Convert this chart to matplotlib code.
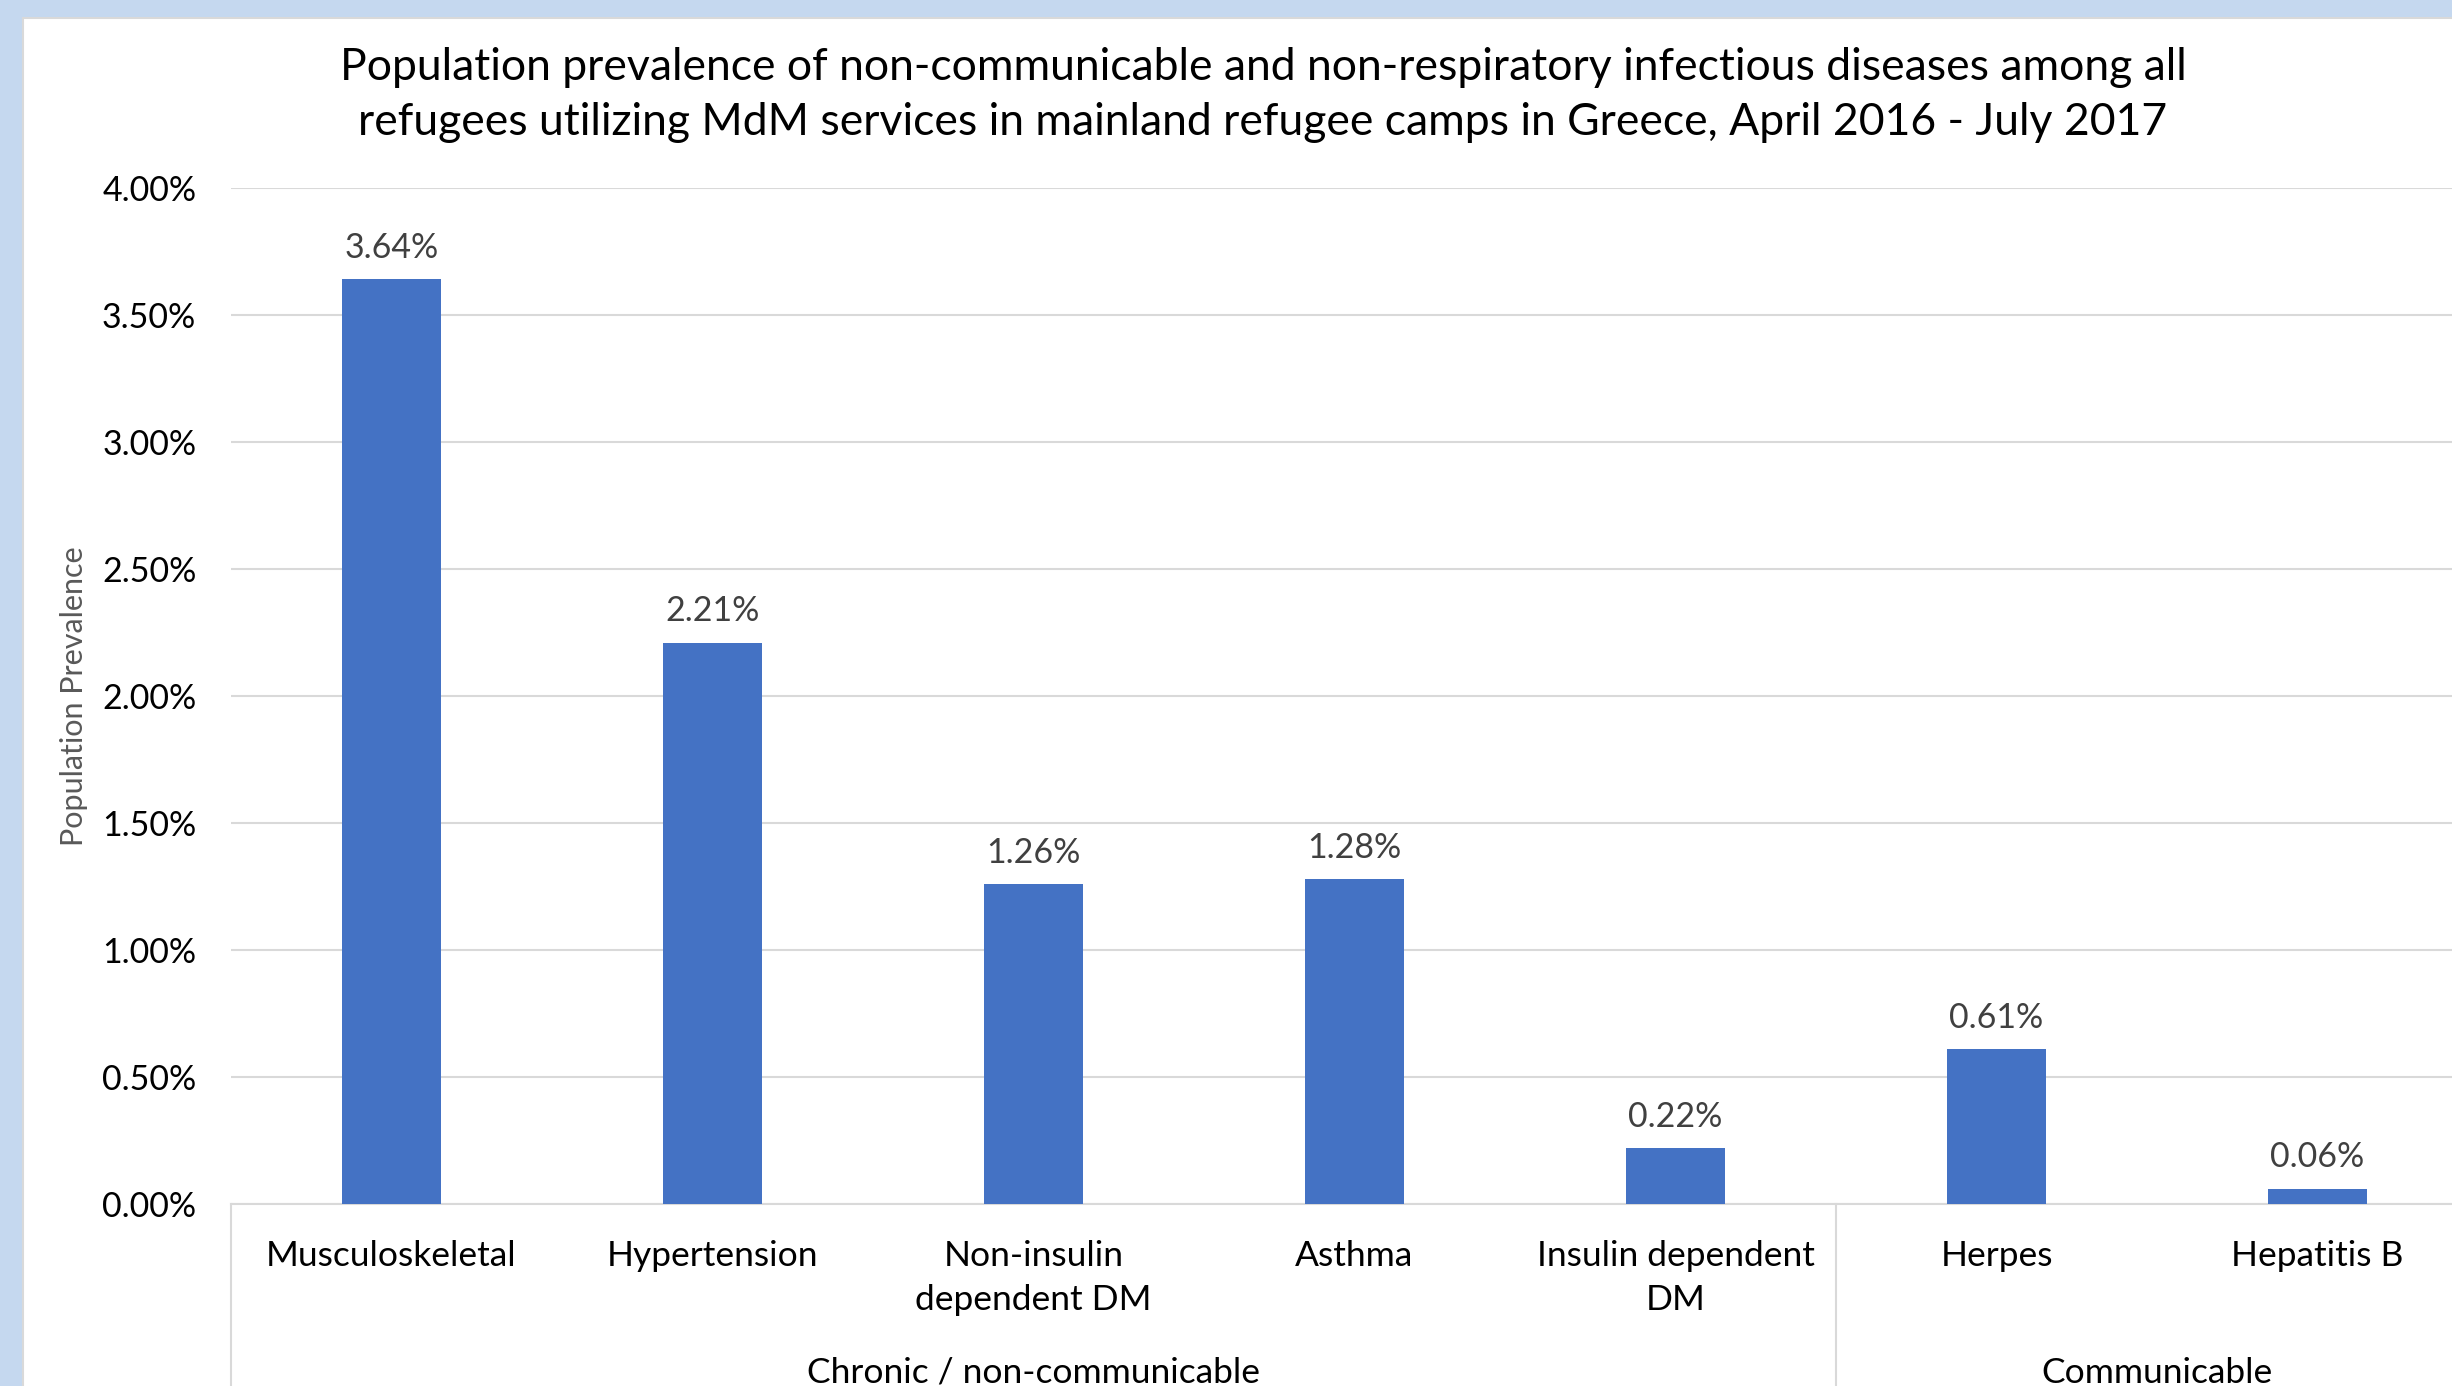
import matplotlib
matplotlib.use("Agg")
import matplotlib.pyplot as plt
import matplotlib.transforms as mtransforms
from matplotlib.patches import Rectangle

# Daten
kategorien = ["Musculoskeletal", "Hypertension", "Non-insulin\ndependent DM", "Asthma",
              "Insulin dependent\nDM", "Herpes", "Hepatitis B"]
prevalenz = [3.64, 2.21, 1.26, 1.28, 0.22, 0.61, 0.06]  # in %
gruppen = ["Chronic / non-communicable", "Communicable"]
gruppen_anzahl = [5, 2]
y_ticks = [0.0, 0.5, 1.0, 1.5, 2.0, 2.5, 3.0, 3.5, 4.0]

titel = ("Population prevalence of non-communicable and non-respiratory infectious diseases among all\n"
         "refugees utilizing MdM services in mainland refugee camps in Greece, April 2016 - July 2017")

plt.rcParams['font.family'] = ['Lato', 'DejaVu Sans']

W, H = 2452, 1386
fig = plt.figure(figsize=(W / 100, H / 100), dpi=100)
fig.patch.set_facecolor("#C5D8EF")

# weisse Diagrammflaeche (hinter den Achsen)
fig.add_artist(Rectangle((23 / W, -0.01), 1.0, 1 - 18 / H + 0.01, transform=fig.transFigure,
                         facecolor="white", edgecolor="#D9D9D9", linewidth=1.5, zorder=-5))

links, unten, oben = 231, 1204, 188
breite = 7 * 321.0
ax = fig.add_axes([links / W, 1 - unten / H, breite / W, (unten - oben) / H])
ax.patch.set_alpha(0)

x = list(range(len(kategorien)))
ax.bar(x, prevalenz, width=0.31, color="#4472C4", zorder=3)

for xi, v in zip(x, prevalenz):
    ax.annotate(f"{v:.2f}%", (xi, v), xytext=(0, 11), textcoords="offset points",
                ha="center", va="bottom", fontsize=24.5, color="#404040")

ax.set_xlim(-0.5, len(kategorien) - 0.5)
ax.set_ylim(0, 4.0)
ax.set_yticks(y_ticks)
ax.set_yticklabels([f"{t:.2f}%" for t in y_ticks], fontsize=24.5, color="black")
ax.yaxis.grid(True, color="#D9D9D9", linewidth=1.5, zorder=0)
ax.tick_params(axis="y", length=0, pad=25)

ax.set_xticks(x)
ax.set_xticklabels(kategorien, fontsize=25.5, color="black", linespacing=1.45)
ax.tick_params(axis="x", length=0, pad=26)

for s in ["top", "right", "left"]:
    ax.spines[s].set_visible(False)
ax.spines["bottom"].set_color("#D9D9D9")
ax.spines["bottom"].set_linewidth(1.5)

# Gruppenebene der Kategorienachse
trans = mtransforms.blended_transform_factory(ax.transData, ax.transAxes)
start = -0.5
ax.plot([start, start], [0, -0.3], transform=trans, color="#D9D9D9", lw=1.5, clip_on=False)
for name, n in zip(gruppen, gruppen_anzahl):
    ende = start + n
    ax.plot([ende, ende], [0, -0.3], transform=trans, color="#D9D9D9", lw=1.5, clip_on=False)
    ax.text((start + ende) / 2, -0.166, name, transform=trans, ha="center", va="center",
            fontsize=25.5, color="black")
    start = ende

ax.set_ylabel("Population Prevalence", fontsize=22, color="#595959", labelpad=10)

fig.text(1263 / W, 1 - 95 / H, titel, ha="center", va="center", fontsize=32,
         color="black", linespacing=1.4)

fig.savefig("out.png", dpi=100, facecolor=fig.get_facecolor())
